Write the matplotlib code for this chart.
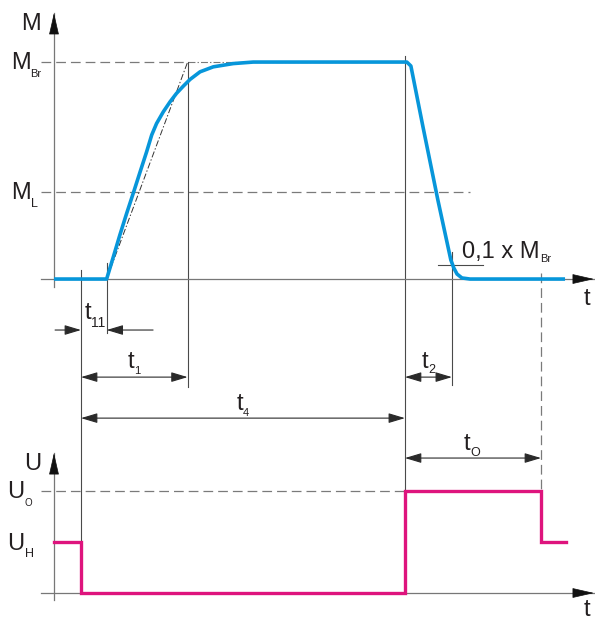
import matplotlib
matplotlib.use("Agg")
import matplotlib.pyplot as plt
import numpy as np

plt.rcParams['font.family'] = ['Liberation Sans', 'DejaVu Sans']
plt.rcParams['lines.scale_dashes'] = False

# levels (torque as fraction of M_Br, voltage as fraction of U_O)
M_BR = 1.0
M_L = 0.40
U_O = 1.0
U_H = 0.5

# time marks (arbitrary units)
t_off = 1.0      # holding voltage switched off
t_11 = 1.95      # end of response delay
t_1 = 4.95       # tangent reaches M_Br
t_on = 13.0      # overexcitation voltage on (end of t4)
t_2 = 14.74      # torque down to 0.1 x M_Br
t_o_end = 18.04  # end of overexcitation

# brake torque curve
torque_t = [0, 1.95, 2.20, 2.44, 2.69, 2.94, 3.19, 3.43, 3.62, 3.80, 4.05, 4.30,
            4.54, 4.79, 5.04, 5.41, 5.90, 6.64, 7.38, 8.49, 13.0, 13.07, 13.22,
            13.67, 14.22, 14.70, 14.81, 14.93, 15.11, 15.41, 18.93]
torque_m = [0, 0, 0.103, 0.203, 0.302, 0.397, 0.494, 0.586, 0.664, 0.717, 0.771,
            0.817, 0.856, 0.889, 0.920, 0.955, 0.978, 0.993, 1.0, 1.0, 1.0, 1.0,
            0.982, 0.700, 0.364, 0.088, 0.051, 0.023, 0.005, 0, 0]

# coil voltage (step after each time)
volt_t = [0, t_off, t_on, t_o_end, 18.96]
volt_u = [U_H, 0, U_O, U_H, U_H]

# the voltage diagram sits below the torque diagram
U_BASE = -1.447
U_SCALE = 0.470


def u_pos(u):
    return U_BASE + U_SCALE * np.asarray(u, dtype=float)


BLUE = '#0796DA'
MAGENTA = '#DE147D'
AX_GRAY = '#777777'
LN_GRAY = '#4a4a4a'
DASH_GRAY = '#7a7a7a'
TXT = '#231F20'
FS = 17

fig = plt.figure(figsize=(5.95, 6.21), dpi=100)
ax = fig.add_axes([0, 0, 1, 1])
ax.set_xlim(-2, 20.04)
ax.set_ylim(-1.576, 1.286)
ax.axis('off')


def axis_arrow(x0, y0, x1, y1, dx=0, dy=0):
    ax.plot([x0, x1], [y0, y1], color=AX_GRAY, lw=0.9, zorder=2)
    ax.annotate('', xy=(x1, y1), xytext=(x1 - dx, y1 - dy),
                arrowprops=dict(arrowstyle='-|>,head_length=14,head_width=3.2',
                                mutation_scale=1, color='#111111', lw=0.5,
                                shrinkA=0, shrinkB=0), zorder=4)


def dim_arrow(x0, x1, y, style='<|-|>'):
    ax.annotate('', xy=(x1, y), xytext=(x0, y),
                arrowprops=dict(arrowstyle=style + ',head_length=10,head_width=3',
                                mutation_scale=1, color='#2a2a2a', lw=0.8,
                                shrinkA=0, shrinkB=0), zorder=2)


def label(x, y, main, sub, size=FS, subsize=8, dx=0.0, dy=5.5):
    t = ax.text(x, y, main, fontsize=size, ha='left', va='baseline', color=TXT)
    ax.annotate(sub, xy=(1, y), xycoords=(t, 'data'), xytext=(dx, -dy),
                textcoords='offset points', fontsize=subsize, ha='left',
                va='baseline', color=TXT)


# level lines
ax.plot([-0.48, t_1], [M_BR, M_BR], color=DASH_GRAY, lw=0.9, ls=(0, (7, 3.6)), zorder=1)
ax.plot([t_1, 11.4], [M_BR, M_BR], color=DASH_GRAY, lw=0.8, ls=(0, (5, 1.5, 1, 1.5)), zorder=1)
ax.plot([-0.48, 15.4], [M_L, M_L], color=DASH_GRAY, lw=0.9, ls=(0, (7, 3.6)), zorder=1)
ax.plot([-0.48, t_on], u_pos([U_O, U_O]), color=DASH_GRAY, lw=0.9, ls=(0, (7, 3.6)), zorder=1)

# tangent of the rise
ax.plot([t_11, t_1], [0, M_BR], color='#333333', lw=0.7, ls=(0, (4.5, 1.5, 1, 1.5)), zorder=2)

# vertical marker lines
ax.plot([t_off, t_off], [0.04, float(u_pos(U_H))], color=LN_GRAY, lw=0.8, zorder=1)
ax.plot([t_11, t_11], [0.074, -0.249], color=LN_GRAY, lw=0.8, zorder=1)
ax.plot([t_1, t_1], [M_BR, -0.498], color=LN_GRAY, lw=0.8, zorder=1)
ax.plot([t_on, t_on], [1.03, float(u_pos(U_O))], color=LN_GRAY, lw=0.8, zorder=1)
ax.plot([t_2, t_2], [0.124, -0.488], color=LN_GRAY, lw=0.8, zorder=1)
ax.plot([t_o_end, t_o_end], [0.028, float(u_pos(U_O))], color=DASH_GRAY, lw=0.9,
        ls=(0, (7, 3.6)), zorder=1)
ax.plot([14.22, 15.89], [0.065, 0.065], color=LN_GRAY, lw=0.8, zorder=1)

# axes
axis_arrow(0, -0.037, 0, 1.226, dy=0.09)
axis_arrow(-0.48, 0, 20.0, 0, dx=0.75)
axis_arrow(0, float(u_pos(-0.068)), 0, float(u_pos(1.372)), dy=0.09)
axis_arrow(-0.48, float(u_pos(0)), 20.0, float(u_pos(0)), dx=0.75)

# dimension arrows
dim_arrow(0.04, t_off, -0.235, '-|>')
dim_arrow(3.67, t_11, -0.235, '-|>')
dim_arrow(t_off, t_1, -0.452)
dim_arrow(t_off, t_on, -0.641)
dim_arrow(t_on, t_2, -0.452)
dim_arrow(t_on, t_o_end, -0.825)

# curves
ax.plot(torque_t, torque_m, color=BLUE, lw=2.6, solid_joinstyle='round',
        solid_capstyle='butt', zorder=3)
ax.step(volt_t, u_pos(volt_u), where='post', color=MAGENTA, lw=2.4,
        solid_joinstyle='miter', zorder=3)

# texts
ax.text(-1.22, 1.147, 'M', fontsize=FS, ha='left', va='baseline', color=TXT)
label(-1.60, 0.968, 'M', 'Br', subsize=8, dy=5.8)
label(-1.60, 0.369, 'M', 'L', subsize=9, dy=5.8)
label(15.12, 0.097, '0,1 x M', 'Br', subsize=8, dy=3.0)
ax.text(19.62, -0.120, 't', fontsize=FS, ha='left', va='baseline', color=TXT)
label(1.13, -0.184, 't', '11', subsize=10, dy=5.8)
label(2.72, -0.410, 't', '1', subsize=8, dy=4.3)
label(6.76, -0.604, 't', '4', subsize=8, dy=4.0)
label(13.61, -0.410, 't', '2', subsize=9, dy=3.6)
label(15.17, -0.788, 't', 'O', subsize=9, dy=4.3)
ax.text(-1.10, -0.880, 'U', fontsize=FS, ha='left', va='baseline', color=TXT)
label(-1.72, -1.009, 'U', 'O', subsize=7, dy=5.8)
label(-1.72, -1.249, 'U', 'H', subsize=9, dy=5.0)
ax.text(19.62, -1.555, 't', fontsize=FS, ha='left', va='baseline', color=TXT)

fig.savefig('out.png', dpi=100)
